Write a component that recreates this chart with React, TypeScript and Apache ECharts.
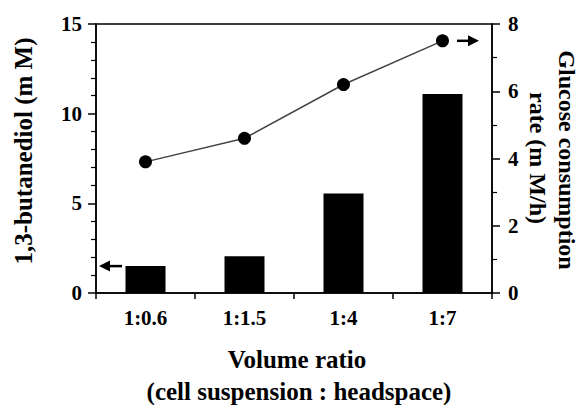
import React, { useEffect, useRef } from "react";
import * as echarts from "echarts";

const categories = ["1:0.6", "1:1.5", "1:4", "1:7"];
const butanediol = [1.5, 2.05, 5.55, 11.1];
const glucoseRate = [3.9, 4.6, 6.2, 7.5];

const FONT = "'Liberation Serif', 'Times New Roman', serif";

export default function App() {
  const ref = useRef<HTMLDivElement>(null);
  useEffect(() => {
    if (!ref.current) return;
    const chart = echarts.init(ref.current, undefined, { renderer: "svg" });
    const axisLine = { show: true, lineStyle: { color: "#000", width: 1.5 } };
    const tickLabel = { color: "#000", fontFamily: FONT, fontWeight: "bold" as const, fontSize: 21 };
    chart.setOption({
      animation: false,
      backgroundColor: "#fff",
      grid: {
        left: 96,
        right: 89,
        top: 24,
        bottom: 112,
        show: true,
        borderColor: "#000",
        borderWidth: 1.5,
      },
      xAxis: {
        type: "category",
        data: categories,
        boundaryGap: true,
        axisLine,
        axisTick: { show: true, length: 6, lineStyle: { color: "#000", width: 1.5 } },
        axisLabel: { ...tickLabel, margin: 14 },
        splitLine: { show: false },
      },
      yAxis: [
        {
          type: "value",
          min: 0,
          max: 15,
          interval: 5,
          position: "left",
          axisLine,
          axisTick: { show: true, length: 8, lineStyle: { color: "#000", width: 1.5 } },
          minorTick: { show: true, splitNumber: 5, length: 5, lineStyle: { color: "#000", width: 1.2 } },
          axisLabel: { ...tickLabel, margin: 14 },
          splitLine: { show: false },
          minorSplitLine: { show: false },
        },
        {
          type: "value",
          min: 0,
          max: 8,
          interval: 2,
          position: "right",
          axisLine,
          axisTick: { show: true, length: 8, lineStyle: { color: "#000", width: 1.5 } },
          minorTick: { show: true, splitNumber: 2, length: 5, lineStyle: { color: "#000", width: 1.2 } },
          axisLabel: { ...tickLabel, margin: 16 },
          splitLine: { show: false },
          minorSplitLine: { show: false },
        },
      ],
      series: [
        {
          name: "1,3-butanediol",
          type: "bar",
          yAxisIndex: 0,
          data: butanediol,
          barWidth: 40,
          itemStyle: { color: "#000" },
        },
        {
          name: "Glucose consumption rate",
          type: "line",
          yAxisIndex: 1,
          data: glucoseRate,
          symbol: "circle",
          symbolSize: 13,
          lineStyle: { color: "#444", width: 1.5 },
          itemStyle: { color: "#000" },
          z: 5,
        },
      ],
    });

    const leftY = chart.convertToPixel({ yAxisIndex: 0 }, butanediol[0]) as number;
    const rightY = chart.convertToPixel({ yAxisIndex: 1 }, glucoseRate[glucoseRate.length - 1]) as number;
    const titleStyle = { fill: "#000", fontFamily: FONT, fontWeight: "bold", fontSize: 24, align: "center", verticalAlign: "middle" };
    chart.setOption({
      graphic: [
        // left arrow
        { type: "line", shape: { x1: 106, y1: leftY, x2: 122, y2: leftY }, style: { stroke: "#000", lineWidth: 2.5 } },
        { type: "polygon", shape: { points: [[99, leftY], [110, leftY - 5.5], [110, leftY + 5.5]] }, style: { fill: "#000" } },
        // right arrow
        { type: "line", shape: { x1: 457, y1: rightY, x2: 472, y2: rightY }, style: { stroke: "#000", lineWidth: 2.5 } },
        { type: "polygon", shape: { points: [[479, rightY], [468, rightY - 5.5], [468, rightY + 5.5]] }, style: { fill: "#000" } },
        // titles
        { type: "text", x: 23, y: 151, rotation: Math.PI / 2, style: { ...titleStyle, fontSize: 25, text: "1,3-butanediol (m M)" } },
        { type: "text", x: 567, y: 160, rotation: -Math.PI / 2, style: { ...titleStyle, text: "Glucose consumption" } },
        { type: "text", x: 538, y: 158, rotation: -Math.PI / 2, style: { ...titleStyle, text: "rate (m M/h)" } },
        { type: "text", x: 297, y: 359, style: { ...titleStyle, fontSize: 25, text: "Volume ratio" } },
        { type: "text", x: 299, y: 391, style: { ...titleStyle, fontSize: 25, text: "(cell suspension : headspace)" } },
      ],
    });
    return () => chart.dispose();
  }, []);
  return <div ref={ref} style={{ position: "fixed", left: 0, top: 0, width: 581, height: 405 }} />;
}
